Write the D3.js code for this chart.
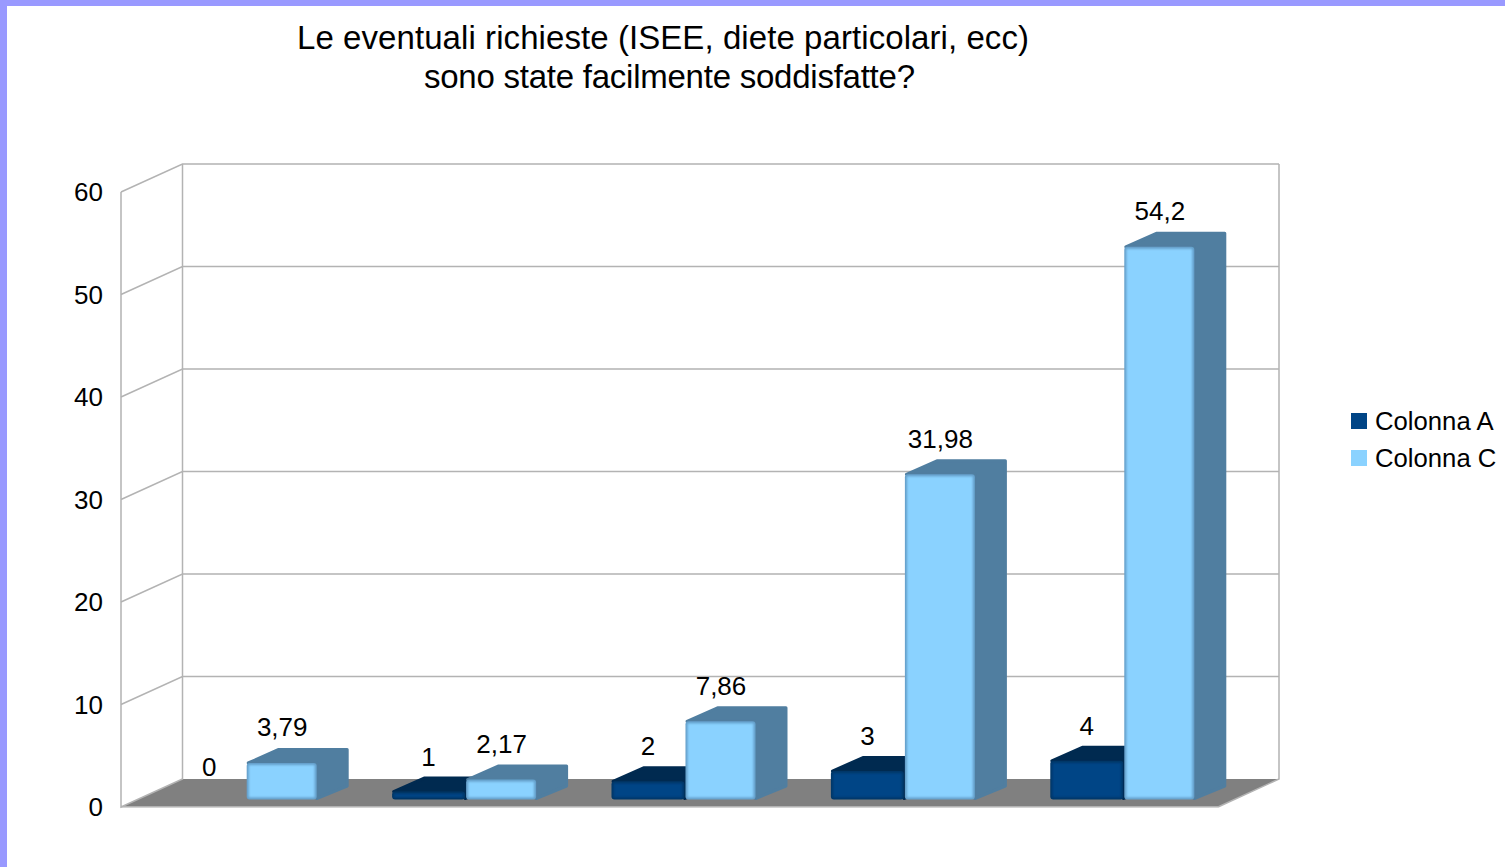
<!DOCTYPE html>
<html>
<head>
<meta charset="utf-8">
<script src="https://cdn.jsdelivr.net/npm/d3@7"></script>
<style>
  html, body { margin: 0; padding: 0; background: #fff; overflow: hidden; }
  text { font-family: "Liberation Sans", Arial, sans-serif; fill: #000; }
</style>
</head>
<body>
<svg id="chart" width="1505" height="867"></svg>
<script>
const categories = ["0", "1", "2", "3", "4"];
const seriesNames = ["Colonna A", "Colonna C"];
const colonnaA = [0, 1, 2, 3, 4];
const colonnaC = [3.79, 2.17, 7.86, 31.98, 54.2];
const colonnaCLabels = ["3,79", "2,17", "7,86", "31,98", "54,2"];
const yTicks = [0, 10, 20, 30, 40, 50, 60];
const titleLines = ["Le eventuali richieste (ISEE, diete particolari, ecc)", "sono state facilmente soddisfatte?"];

const colors = {
    A: {front: "#004586", edge: "#003666", dark: "#002a50"},
    C: {front: "#8ad2ff", edge: "#639dc8", dark: "#507ea0"}
};

let svg = d3.select("#chart");

let defs = svg.append("defs");
defs.append("filter").attr("id", "soft")
    .attr("x", "-10%").attr("y", "-10%").attr("width", "120%").attr("height", "120%")
    .append("feGaussianBlur").attr("stdDeviation", 0.9);

// page border, only top and left
svg.append("rect").attr("width", 1505).attr("height", 6).attr("fill", "#9999ff");
svg.append("rect").attr("width", 7).attr("height", 867).attr("fill", "#9999ff");

// the two title lines are not centred on the same x in the original
const titleX = [663, 669.5];
const titleW = [732, 491];
svg.append("g").selectAll("text")
    .data(titleLines).enter().append("text")
    .attr("x", (d, i) => titleX[i])
    .attr("y", (d, i) => 49 + i * 38.5)
    .attr("text-anchor", "middle")
    .attr("font-size", 33)
    .attr("textLength", (d, i) => titleW[i])
    .attr("lengthAdjust", "spacing")
    .text(d => d);

// front plane of the box and how far the back wall is pushed
const wallDx = 61.5, wallDy = -28;
const y = d3.scaleLinear().domain([0, 60]).range([807, 192]);
const x0 = d3.scaleBand().domain(categories).range([136, 136 + 1097]);

// bars stand a bit inside the floor, the bevel eats the bottom of them
const barY = d3.scaleLinear().domain([0, 60]).range([801.8, 187.4]);
const barBase = 799.5;
const barDx = 30.5, barDy = -13.5;
const barW = 73;

// walls and floor
let walls = svg.append("g");
walls.append("path")
    .attr("d", `M121,${y(0)} L${121 + wallDx},${y(0) + wallDy} L1279,${y(0) + wallDy} L1218,${y(0)} Z`)
    .attr("fill", "#808080");
walls.append("path")
    .attr("d", `M121,${y(0)} H1218`)
    .attr("stroke", "#c4c4c4").attr("stroke-width", 1.5);

let gridColor = "#b3b3b3";
walls.selectAll(".grid").data(yTicks.slice(1)).enter().append("path")
    .attr("class", "grid")
    .attr("d", d => `M121,${y(d)} L${121 + wallDx},${y(d) + wallDy} H1279`)
    .attr("fill", "none").attr("stroke", gridColor).attr("stroke-width", 1.5);
walls.append("path")
    .attr("d", `M121,${y(60)} V${y(0)} L${121 + wallDx},${y(0) + wallDy} V${y(60) + wallDy} M1279,${y(60) + wallDy} V${y(0) + wallDy} L1218,${y(0)}`)
    .attr("fill", "none").attr("stroke", gridColor).attr("stroke-width", 1.5);

let yAxis = d3.axisLeft(y).tickValues(yTicks).tickSize(0).tickPadding(18);
let axisG = svg.append("g").attr("transform", "translate(121,0)").call(yAxis);
axisG.select(".domain").remove();
axisG.selectAll("text")
    .attr("font-size", 26)
    .attr("dy", "0.34em")
    .style("font-family", '"Liberation Sans", Arial, sans-serif');

function drawBar(g, left, width, value, c) {
    let top = barY(value);
    let h = barBase - top;
    // side and top faces first, the front goes over them
    g.append("path")
        .attr("d", `M${left + 1.5},${top} l${barDx},${barDy} H${left + width + barDx} V${barBase + barDy} L${left + width},${barBase - 1} V${top} Z`)
        .attr("fill", c.dark).attr("stroke", c.dark)
        .attr("stroke-width", 3).attr("stroke-linejoin", "round");
    g.append("rect")
        .attr("x", left).attr("y", top)
        .attr("width", width).attr("height", h)
        .attr("rx", 3).attr("fill", c.edge);
    g.append("rect")
        .attr("x", left + 2).attr("y", top + 2)
        .attr("width", width - 4).attr("height", Math.max(h - 4, 1))
        .attr("fill", c.front)
        .attr("filter", "url(#soft)");
}

let bars = svg.append("g");
categories.forEach((cat, i) => {
    let mid = x0(cat) + x0.bandwidth() / 2;
    let g = bars.append("g");
    if (colonnaA[i] > 0) drawBar(g, mid - barW, barW, colonnaA[i], colors.A);
    drawBar(g, mid + 1, barW - 3, colonnaC[i], colors.C);
});

// value labels
let labels = svg.append("g").attr("font-size", 26).attr("text-anchor", "middle");
categories.forEach((cat, i) => {
    let mid = x0(cat) + x0.bandwidth() / 2;
    labels.append("text")
        .attr("x", mid - barW / 2)
        .attr("y", barY(colonnaA[i]) - 26)
        .text(colonnaA[i]);
    labels.append("text")
        .attr("x", mid + barW / 2)
        .attr("y", barY(colonnaC[i]) - 26.5)
        .text(colonnaCLabels[i]);
});

// legend
let legend = svg.append("g").selectAll("g")
    .data(seriesNames).enter().append("g")
    .attr("transform", (d, i) => `translate(1351,${413 + i * 37})`);
legend.append("rect")
    .attr("width", 16).attr("height", 16)
    .attr("fill", (d, i) => i === 0 ? colors.A.front : colors.C.front);
legend.append("text")
    .attr("x", 24).attr("y", 16.5)
    .attr("font-size", 25.7)
    .text(d => d);
</script>
</body>
</html>
